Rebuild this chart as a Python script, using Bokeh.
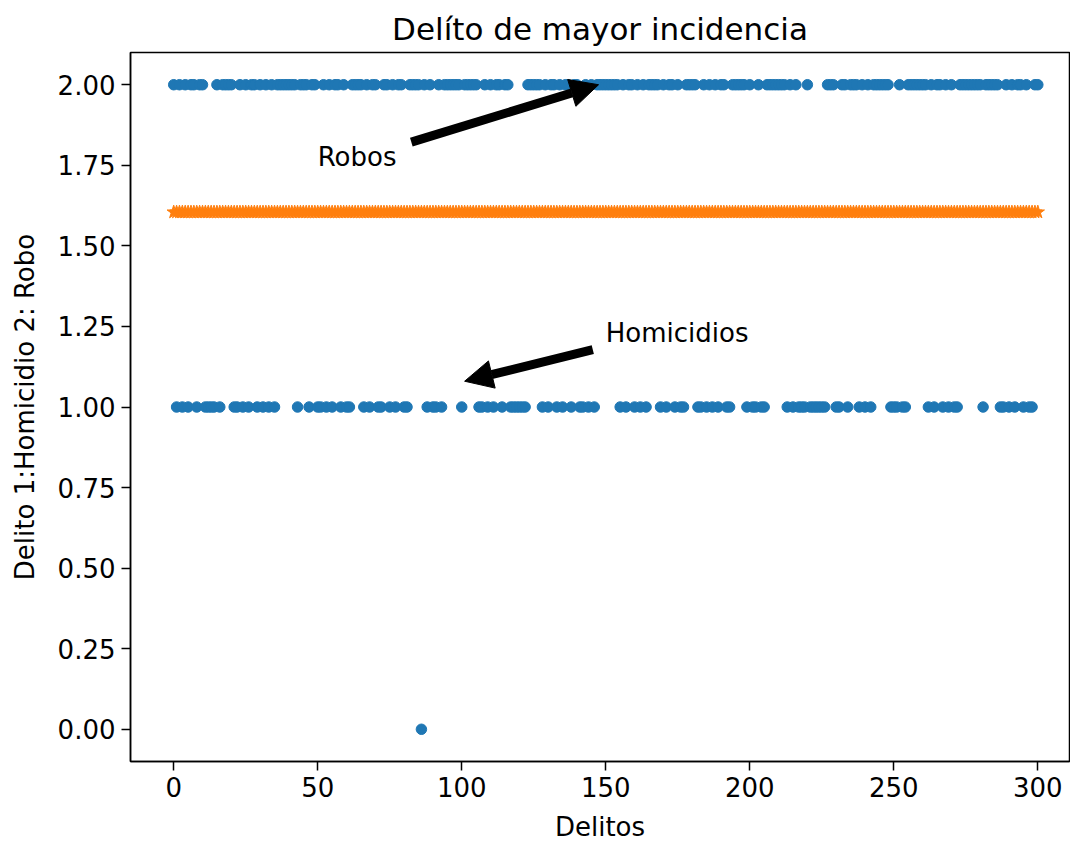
import numpy as np
from bokeh.plotting import figure
from bokeh.models import FixedTicker, Arrow, NormalHead, Label, Range1d, CustomJSTickFormatter
from bokeh.embed import file_html
from bokeh.resources import INLINE

# Delito per record: 0 = otro, 1 = Homicidio, 2 = Robo
delito = [
    2,1,2,1,2,1,2,2,1,2,
    2,1,1,1,1,2,1,2,2,2,
    2,1,1,2,1,2,1,2,2,1,
    2,1,2,1,2,1,2,2,2,2,
    2,2,2,1,2,2,2,1,2,2,
    1,1,2,1,2,1,2,2,1,2,
    1,1,2,2,2,2,1,2,1,2,
    2,1,1,2,2,1,2,1,2,2,
    1,1,2,2,2,2,0,2,1,2,
    1,1,2,1,2,2,2,2,2,2,
    1,2,2,2,2,2,1,1,2,1,
    2,1,2,2,1,2,2,1,1,1,
    1,1,1,2,2,2,2,2,1,2,
    1,2,2,1,2,1,2,2,1,2,
    2,1,1,2,1,2,1,2,2,2,
    2,2,2,2,2,1,2,1,2,2,
    1,2,1,2,1,2,2,2,2,1,
    2,1,2,2,1,2,1,1,2,2,
    2,2,1,1,2,1,2,1,2,1,
    2,2,1,1,2,2,2,2,2,1,
    2,1,1,2,1,1,2,2,2,2,
    2,2,2,1,2,1,2,1,1,1,
    2,1,1,1,1,1,1,2,2,2,
    1,1,2,2,1,2,2,2,1,2,
    1,2,1,2,2,2,2,2,2,1,
    1,1,2,1,1,2,2,2,2,2,
    2,2,1,2,1,2,2,1,2,1,
    2,1,1,2,2,2,2,2,2,2,
    2,1,2,2,2,2,2,1,1,2,
    1,2,1,2,2,1,2,1,1,2,
    2,
]
indices = list(range(len(delito)))
media = float(np.mean(delito))
media_line = [media] * len(delito)

x_ticks = [0, 50, 100, 150, 200, 250, 300]
y_ticks = [0.0, 0.25, 0.5, 0.75, 1.0, 1.25, 1.5, 1.75, 2.0]

# annotations (data coordinates)
robos_text = (50, 1.776)
robos_tail = (82.5, 1.822)
robos_tip = (147.5, 2.0)
homic_text = (150, 1.23)
homic_tail = (145.5, 1.178)
homic_tip = (101, 1.08)

BLUE = "#1f77b4"
ORANGE = "#ff7f0e"
FONT = "DejaVu Sans"

p = figure(width=1070, height=844, output_backend="svg", toolbar_location=None,
           x_range=Range1d(-15, 311), y_range=Range1d(-0.1, 2.1),
           min_border_left=130, min_border_right=1, min_border_top=52, min_border_bottom=81)

p.title.text = "Delíto de mayor incidencia"
p.title.text_font = FONT
p.title.text_font_size = "31px"
p.title.text_font_style = "normal"
p.title.align = "center"
p.title.offset = 6
p.title.standoff = 12
p.title.text_color = "black"

p.line(indices, media_line, color=ORANGE, line_width=2.5)
p.scatter(indices, media_line, marker="star", size=14, color=ORANGE)
p.scatter(indices, delito, marker="circle", size=10.5, color=BLUE)

p.add_layout(Arrow(x_start=robos_tail[0], y_start=robos_tail[1], x_end=robos_tip[0], y_end=robos_tip[1],
                   line_width=9, line_color="black",
                   end=NormalHead(size=28, fill_color="black", line_color="black")))
p.add_layout(Arrow(x_start=homic_tail[0], y_start=homic_tail[1], x_end=homic_tip[0], y_end=homic_tip[1],
                   line_width=9, line_color="black",
                   end=NormalHead(size=28, fill_color="black", line_color="black")))
p.add_layout(Label(x=robos_text[0], y=robos_text[1], text="Robos", text_font=FONT,
                   text_font_size="26px", text_baseline="alphabetic", text_align="left", text_color="black"))
p.add_layout(Label(x=homic_text[0], y=homic_text[1], text="Homicidios", text_font=FONT,
                   text_font_size="26px", text_baseline="alphabetic", text_align="left", text_color="black"))

p.xgrid.visible = False
p.ygrid.visible = False
p.outline_line_color = "black"
p.outline_line_width = 1.5

p.xaxis.ticker = FixedTicker(ticks=x_ticks)
p.yaxis.ticker = FixedTicker(ticks=y_ticks)
p.yaxis.formatter = CustomJSTickFormatter(code="return tick.toFixed(2);")
p.xaxis.axis_label = "Delitos"
p.yaxis.axis_label = "Delito 1:Homicidio 2: Robo"
for ax in (p.xaxis[0], p.yaxis[0]):
    ax.major_label_text_font = FONT
    ax.major_label_text_font_size = "26px"
    ax.major_label_text_color = "black"
    ax.axis_label_text_font = FONT
    ax.axis_label_text_font_size = "26px"
    ax.axis_label_text_font_style = "normal"
    ax.axis_label_text_color = "black"
    ax.axis_line_color = "black"
    ax.axis_line_width = 1.5
    ax.major_tick_line_color = "black"
    ax.major_tick_line_width = 1.5
    ax.major_tick_out = 9
    ax.major_tick_in = 0
    ax.minor_tick_line_color = None
    ax.major_label_standoff = 6
p.xaxis[0].axis_label_standoff = 12
p.yaxis[0].axis_label_standoff = 15

open("out.html", "w").write(file_html(p, INLINE))
